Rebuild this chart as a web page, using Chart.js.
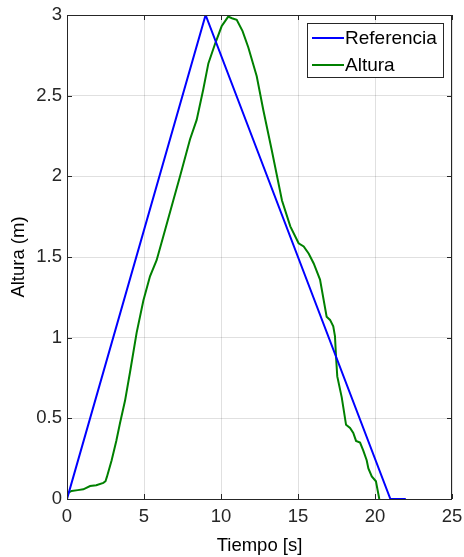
<!DOCTYPE html>
<html>
<head>
<meta charset="utf-8">
<script src="https://cdn.jsdelivr.net/npm/chart.js@4"></script>
<style>
  html, body { margin: 0; padding: 0; background: #fff; }
  #wrap { width: 464px; height: 557px; }
</style>
</head>
<body>
<div id="wrap"><canvas id="altChart"></canvas></div>
<script>
// reference trajectory
var refTime = [0, 9, 21, 22];
var refHeight = [0, 3, 0, 0];

// measured height
var altTime = [0, 0.1, 0.3, 0.7, 1.06, 1.5, 1.9, 2.36, 2.5, 2.6, 2.9, 3.2, 3.44, 3.77, 4.1,
  4.52, 4.96, 5.39, 5.82, 6.26, 6.9, 7.34, 7.99, 8.42, 8.85, 9.18, 9.61, 10.04, 10.47, 10.71,
  11.02, 11.4, 11.77, 12.32, 12.75, 13.3, 13.96, 14.5, 15.04, 15.37, 15.7, 16.02, 16.43, 16.86,
  17.08, 17.29, 17.4, 17.47, 17.55, 17.84, 17.94, 18.12, 18.38, 18.59, 18.77, 19.03, 19.24,
  19.46, 19.57, 19.79, 20.06, 20.21, 20.28];
var altHeight = [0.02, 0.04, 0.05, 0.055, 0.06, 0.08, 0.085, 0.10, 0.11, 0.14, 0.24, 0.36, 0.47, 0.61, 0.79,
  1.03, 1.23, 1.38, 1.48, 1.63, 1.85, 2.0, 2.23, 2.35, 2.54, 2.70, 2.82, 2.93, 2.99, 2.98,
  2.97, 2.9, 2.80, 2.62, 2.41, 2.16, 1.85, 1.69, 1.585, 1.565, 1.52, 1.46, 1.36, 1.13,
  1.11, 1.07, 1.01, 0.88, 0.76, 0.63, 0.57, 0.46, 0.44, 0.41, 0.36, 0.35, 0.30,
  0.24, 0.19, 0.14, 0.11, 0.035, 0];

var xTicks = [0, 5, 10, 15, 20, 25];
var yTicks = [0, 0.5, 1, 1.5, 2, 2.5, 3];

function pts(xs, ys) {
  return xs.map(function (x, i) { return { x: x, y: ys[i] }; });
}

var axisColor = '#262626';
var fontFamily = "'Liberation Sans', Arial, sans-serif";

// MATLAB-like box with inward ticks and a boxed legend
var matlabBox = {
  id: 'matlabBox',
  afterDraw: function (chart) {
    var ctx = chart.ctx;
    var a = chart.chartArea;
    var xs = chart.scales.x, ys = chart.scales.y;
    ctx.save();
    ctx.strokeStyle = axisColor;
    ctx.lineWidth = 1;
    ctx.strokeRect(a.left + 0.5, a.top + 0.5, a.right - a.left - 1, a.bottom - a.top);
    ctx.beginPath();
    xTicks.forEach(function (v) {
      var px = Math.round(xs.getPixelForValue(v)) + 0.5;
      ctx.moveTo(px, a.bottom); ctx.lineTo(px, a.bottom - 5);
      ctx.moveTo(px, a.top); ctx.lineTo(px, a.top + 5);
    });
    yTicks.forEach(function (v) {
      var py = Math.round(ys.getPixelForValue(v)) + 0.5;
      ctx.moveTo(a.left, py); ctx.lineTo(a.left + 5, py);
      ctx.moveTo(a.right, py); ctx.lineTo(a.right - 5, py);
    });
    ctx.stroke();

    // legend
    var lx = 307, ly = 23, lw = 136, lh = 54;
    ctx.fillStyle = '#fff';
    ctx.fillRect(lx, ly, lw, lh);
    ctx.strokeStyle = axisColor;
    ctx.strokeRect(lx + 0.5, ly + 0.5, lw, lh);
    ctx.font = '19px ' + fontFamily;
    ctx.textBaseline = 'middle';
    chart.data.datasets.forEach(function (ds, i) {
      var y = ly + 15 + i * 27;
      ctx.strokeStyle = ds.borderColor;
      ctx.lineWidth = 2;
      ctx.beginPath();
      ctx.moveTo(lx + 5, y); ctx.lineTo(lx + 37, y);
      ctx.stroke();
      ctx.fillStyle = '#000';
      ctx.fillText(ds.label, lx + 38, y + 1);
    });
    ctx.restore();
  }
};

new Chart(document.getElementById('altChart').getContext('2d'), {
  type: 'scatter',
  data: {
    datasets: [{
      label: 'Referencia',
      data: pts(refTime, refHeight),
      showLine: true,
      borderColor: '#0000ff',
      borderWidth: 2,
      pointRadius: 0,
      tension: 0
    }, {
      label: 'Altura',
      data: pts(altTime, altHeight),
      showLine: true,
      borderColor: '#008000',
      borderWidth: 2,
      pointRadius: 0,
      tension: 0
    }]
  },
  options: {
    responsive: true,
    maintainAspectRatio: false,
    animation: false,
    layout: { padding: { top: 15, right: 12, left: 0, bottom: 0 } },
    plugins: {
      legend: { display: false },
      tooltip: { enabled: false }
    },
    scales: {
      x: {
        type: 'linear',
        min: 0, max: 25,
        afterBuildTicks: function (s) { s.ticks = xTicks.map(function (v) { return { value: v }; }); },
        afterFit: function (s) { s.height = 58; s.paddingLeft = 0; s.paddingRight = 0; },
        grid: { color: 'rgba(0,0,0,0.12)', drawTicks: false },
        border: { display: false },
        ticks: { color: axisColor, padding: 7, font: { size: 18.5, family: fontFamily }, maxRotation: 0,
          callback: function (v) { return String(v); } },
        title: { display: true, text: 'Tiempo [s]', color: '#000', padding: { top: 0, bottom: 0 }, font: { size: 18.5, family: fontFamily } }
      },
      y: {
        min: 0, max: 3,
        afterBuildTicks: function (s) { s.ticks = yTicks.map(function (v) { return { value: v }; }); },
        afterFit: function (s) { s.width = 67; s.paddingTop = 0; s.paddingBottom = 0; },
        grid: { color: 'rgba(0,0,0,0.12)', drawTicks: false },
        border: { display: false },
        ticks: { color: axisColor, padding: 5, font: { size: 18.5, family: fontFamily },
          callback: function (v) { return String(v); } },
        title: { display: true, text: 'Altura (m)', color: '#000', padding: { top: 8, bottom: 0 }, font: { size: 18.5, family: fontFamily } }
      }
    }
  },
  plugins: [matlabBox]
});
</script>
</body>
</html>
